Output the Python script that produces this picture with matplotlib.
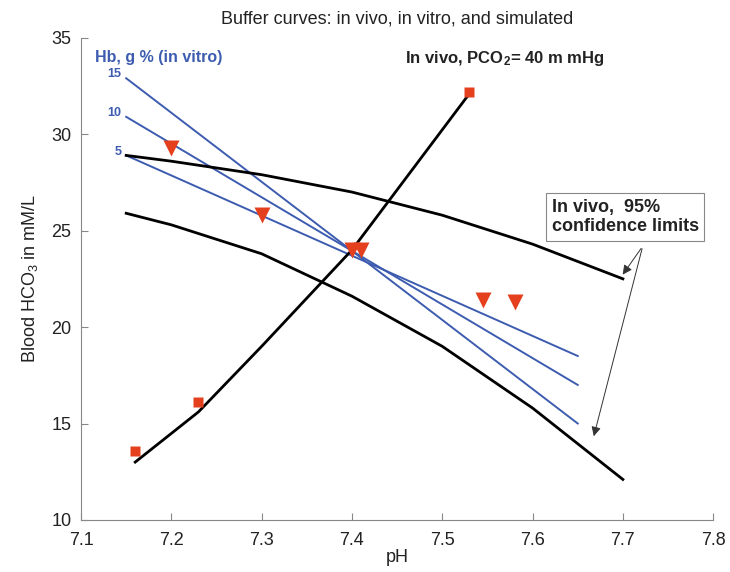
import numpy as np
import matplotlib
matplotlib.use('Agg')
import matplotlib.pyplot as plt

plt.rcParams['font.family'] = ['Liberation Sans', 'DejaVu Sans']
plt.rcParams['mathtext.default'] = 'regular'

# in vivo buffer line, PCO2 = 40
vivo_ph = [7.16, 7.23, 7.30, 7.40, 7.53]
vivo_hco3 = [13.0, 15.6, 19.0, 24.0, 32.1]

# 95% confidence limits
up_ph = [7.15, 7.20, 7.30, 7.40, 7.50, 7.60, 7.70]
up_hco3 = [28.9, 28.6, 27.9, 27.0, 25.8, 24.3, 22.5]
lo_ph = [7.15, 7.20, 7.30, 7.40, 7.50, 7.60, 7.70]
lo_hco3 = [25.9, 25.3, 23.8, 21.6, 19.0, 15.8, 12.1]

# in vitro lines, Hb g%
hb = ['15', '10', '5']
vitro_ph = [7.15, 7.65]
vitro_hco3 = [[32.9, 15.0], [30.9, 17.0], [28.9, 18.5]]

# measured points
sq_ph = [7.16, 7.23, 7.53]
sq_hco3 = [13.6, 16.1, 32.2]
tri_ph = [7.20, 7.30, 7.40, 7.41, 7.545, 7.58]
tri_hco3 = [29.3, 25.8, 24.0, 24.0, 21.4, 21.3]

blue = '#3d5cb0'
red = '#e5401e'

fig = plt.figure(figsize=(7.3, 5.72), dpi=100)
ax = fig.add_axes([0.111, 0.091, 0.866, 0.843])

for yy in vitro_hco3:
    ax.plot(vitro_ph, yy, color=blue, lw=1.4)
ax.plot(up_ph, up_hco3, color='black', lw=2)
ax.plot(lo_ph, lo_hco3, color='black', lw=2)
ax.plot(vivo_ph, vivo_hco3, color='black', lw=2)
ax.plot(sq_ph, sq_hco3, 's', color=red, ms=7, mec='none')
ax.plot(tri_ph, tri_hco3, 'v', color=red, ms=11, mec='none')

for lab, yy in zip(hb, vitro_hco3):
    ax.text(7.145, yy[0] + 0.2, lab, color=blue, fontsize=9, fontweight='bold',
            ha='right', va='center')
ax.text(7.116, 34.0, 'Hb, g % (in vitro)', color=blue, fontsize=11.5,
        fontweight='bold', va='center')
ax.text(7.459, 33.9, 'In vivo, PCO$_2$= 40 m mHg', color='#222222', fontsize=12,
        fontweight='bold', va='center')

props = dict(boxstyle='square,pad=0.3', facecolor='white', edgecolor='#888888', lw=0.8)
ax.text(7.621, 25.7, 'In vivo,  95%\nconfidence limits', fontsize=13,
        fontweight='bold', color='#222222', va='center', ha='left',
        linespacing=1.2, bbox=props, zorder=5)
arrow = dict(arrowstyle='-|>', color='#333333', lw=0.7, mutation_scale=14)
ax.annotate('', xy=(7.698, 22.6), xytext=(7.722, 24.2), arrowprops=arrow)
ax.annotate('', xy=(7.667, 14.2), xytext=(7.722, 24.2), arrowprops=arrow)

ax.set_xlim(7.1, 7.8)
ax.set_ylim(10, 35)
ax.set_xticks(np.arange(7.1, 7.81, 0.1))
ax.set_xticklabels(['7.1', '7.2', '7.3', '7.4', '7.5', '7.6', '7.7', '7.8'])
ax.set_yticks([10, 15, 20, 25, 30, 35])
ax.tick_params(direction='in', length=5, color='#888888', labelsize=13,
               labelcolor='#222222')
ax.tick_params(axis='x', pad=9)
ax.tick_params(axis='y', pad=7)
for s in ['top', 'right']:
    ax.spines[s].set_visible(False)
for s in ['left', 'bottom']:
    ax.spines[s].set_color('#888888')
ax.set_xlabel('pH', fontsize=13, color='#222222', labelpad=0)
ax.set_ylabel('Blood HCO$_3$ in mM/L', fontsize=13, color='#222222', labelpad=8)
ax.set_title('Buffer curves: in vivo, in vitro, and simulated', fontsize=13,
             color='#222222', pad=10)

plt.savefig('out.png', dpi=100)
